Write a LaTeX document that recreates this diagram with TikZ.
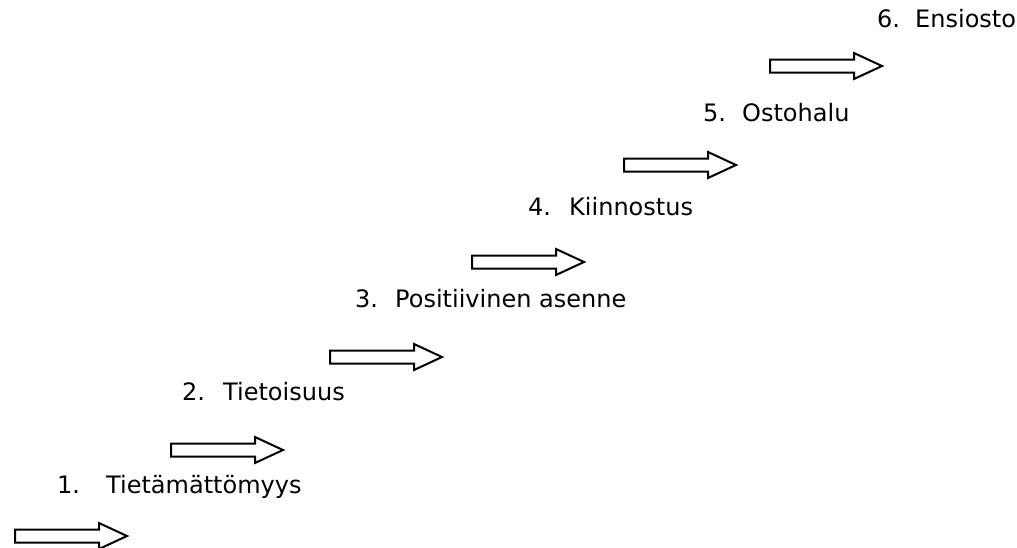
\documentclass[tikz,border=0pt]{standalone}
\usepackage{fontspec}
\setmainfont{DejaVu Sans}
\begin{document}
\begin{tikzpicture}[x=1pt,y=-1pt,
  arrowline/.style={draw=black, fill=white, line width=2pt, line join=miter},
  steparrow/.pic={
    \draw[arrowline] (0,-6.5) -- (84,-6.5) -- (84,-13) -- (112,0)
      -- (84,13) -- (84,6.5) -- (0,6.5) -- cycle;
  },
  stage/.style={anchor=base west, inner sep=0pt, font=\fontsize{24}{28}\selectfont}
]
\useasboundingbox (0,0) rectangle (1017,547);

% block arrows climbing the staircase
\pic (arr1) at (15,536) {steparrow};
\pic (arr2) at (171,450) {steparrow};
\pic (arr3) at (330,357) {steparrow};
\pic (arr4) at (472,262) {steparrow};
\pic (arr5) at (624,165) {steparrow};
\pic (arr6) at (770,66) {steparrow};

% numbered stages
\node[stage] (s1) at (57,493)  {\makebox[49pt][l]{1.}Tietämättömyys};
\node[stage] (s2) at (182,400) {\makebox[41pt][l]{2.}Tietoisuus};
\node[stage] (s3) at (355,307) {\makebox[40pt][l]{3.}Positiivinen asenne};
\node[stage] (s4) at (528,215) {\makebox[41pt][l]{4.}Kiinnostus};
\node[stage] (s5) at (703,121) {\makebox[39pt][l]{5.}Ostohalu};
\node[stage] (s6) at (877,27)  {\makebox[38pt][l]{6.}Ensiosto};
\end{tikzpicture}
\end{document}
